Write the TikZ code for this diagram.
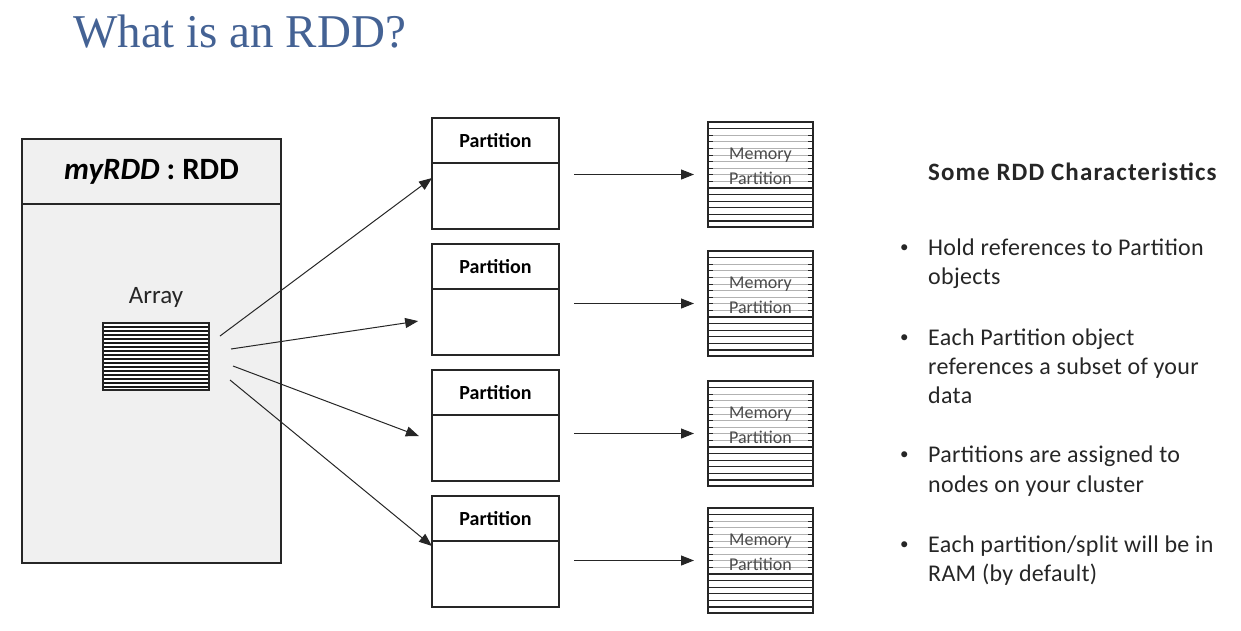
\documentclass[tikz,border=0pt]{standalone}
\usepackage{fontspec}
\setmainfont{Liberation Serif}
\setsansfont{Carlito}
\newfontfamily\headfont[LetterSpace=4.5]{Carlito}
\newfontfamily\listfont[LetterSpace=1.3]{Carlito}
\usetikzlibrary{arrows.meta,positioning}
\definecolor{titleblue}{RGB}{68,98,148}
\definecolor{boxgray}{RGB}{240,240,240}
\definecolor{memgray}{RGB}{75,75,75}

\begin{document}
\begin{tikzpicture}
[x=1pt,y=-1pt,
  boxdecorate/.style={draw=black!85,line width=1.3pt,fill=white,inner sep=0pt,outer sep=0pt},
  rdddecorate/.style={boxdecorate,fill=boxgray,minimum width=259pt},
  partdecorate/.style={boxdecorate,minimum width=127pt,
    font=\sffamily\bfseries\fontsize{20}{24}\selectfont},
  memdecorate/.style={boxdecorate,anchor=north west,minimum width=105pt,minimum height=105pt,
    path picture={
      \foreach \k in {1,10,11,12,13,14,15}
        \draw[black!85,line width=1.1pt] ([yshift=-\k*6.6pt]path picture bounding box.north west)
          -- ([yshift=-\k*6.6pt]path picture bounding box.north east);
      \foreach \k in {2,...,9}
      {
        \draw[black!30,line width=0.8pt] ([yshift=-\k*6.6pt]path picture bounding box.north west)
          -- ([yshift=-\k*6.6pt]path picture bounding box.north east);
        \draw[black!85,line width=1pt] ([yshift=-\k*6.6pt]path picture bounding box.north west) -- +(5,0);
        \draw[black!85,line width=1pt] ([yshift=-\k*6.6pt]path picture bounding box.north east) -- +(-5,0);
      }
    }},
  memtext/.style={align=center,text=memgray,font=\sffamily\fontsize{18}{25}\selectfont},
  arraydecorate/.style={boxdecorate,minimum width=106pt,minimum height=67pt,
    path picture={
      \foreach \k in {1,...,16}
        \draw[black!90,line width=1.1pt] ([yshift=-\k*4pt]path picture bounding box.north west)
          -- ([yshift=-\k*4pt]path picture bounding box.north east);
    }},
  listtext/.style={anchor=base west,inner sep=0pt,font=\listfont\fontsize{24}{29}\selectfont,text=black!85},
  arrowdecorate/.style={-{Triangle[length=13pt,width=10pt]},line width=1pt,draw=black!85}]
\useasboundingbox (0,0) rectangle (1241,630);
%% title
\node (title) at (73,47) [anchor=base west,inner sep=0pt,text=titleblue,
  font=\fontsize{47}{50}\selectfont] {What is an RDD?};
%% the RDD object
\node (rddhead) at (22,139) [rdddecorate,anchor=north west,minimum height=65pt,
  font=\sffamily\bfseries\fontsize{31}{34}\selectfont] {\textit{myRDD} : RDD\hspace{12pt}};
\node (rddbody) [rdddecorate,minimum height=359pt,below=0pt of rddhead] {};
\node (arrlabel) at (156,297) [font=\sffamily\fontsize{25}{28}\selectfont,text=black!85] {Array};
\node (arr) at (156,356.5) [arraydecorate] {};
%% partitions and memory
\foreach \nodename/\y/\my in {1/118/122, 2/244/251, 3/370/381, 4/496/508}
{
  \node (p\nodename) at (432,\y) [partdecorate,anchor=north west,minimum height=45pt] {Partition};
  \node (b\nodename) [partdecorate,minimum height=66pt,below=0pt of p\nodename] {};
  \node (m\nodename) at (708,\my) [memdecorate] {};
  \node (t\nodename) at ([yshift=8.5pt]m\nodename.center) [memtext] {Memory\\Partition};
  \draw[arrowdecorate,shorten <=15pt,shorten >=14pt] (b\nodename.east |- m\nodename.west) -- (m\nodename.west);
}
%% array to partitions
\foreach \sx/\sy/\endnode/\ty/\gap in {11/20.5/b1/18/0, 22/7.5/b2/3/14,
  24/-9.5/b3/7/14, 21/-23.5/b4/28/0}
{
  \draw[arrowdecorate,shorten >=\gap pt] ([xshift=\sx pt,yshift=\sy pt]arr.east) -- ([yshift=\ty pt]\endnode.west);
}
%% characteristics
\node (listhead) at (928,180) [listtext,font=\headfont\bfseries\fontsize{25}{29}\selectfont] {Some RDD Characteristics};
\foreach \y in {255,345,462,552}
  \node (dot\y) at (900,\y-3) [listtext,font=\sffamily\fontsize{17}{20}\selectfont] {•};
\foreach \y/\txt in {255/{Hold references to Partition}, 284/{objects},
  345/{Each Partition object}, 374/{references a subset of your}, 403/{data},
  462/{Partitions are assigned to}, 492/{nodes on your cluster},
  552/{Each partition/split will be in}, 581/{RAM (by default)}}
  \node (line\y) at (928,\y) [listtext] {\txt};
\end{tikzpicture}
\end{document}
